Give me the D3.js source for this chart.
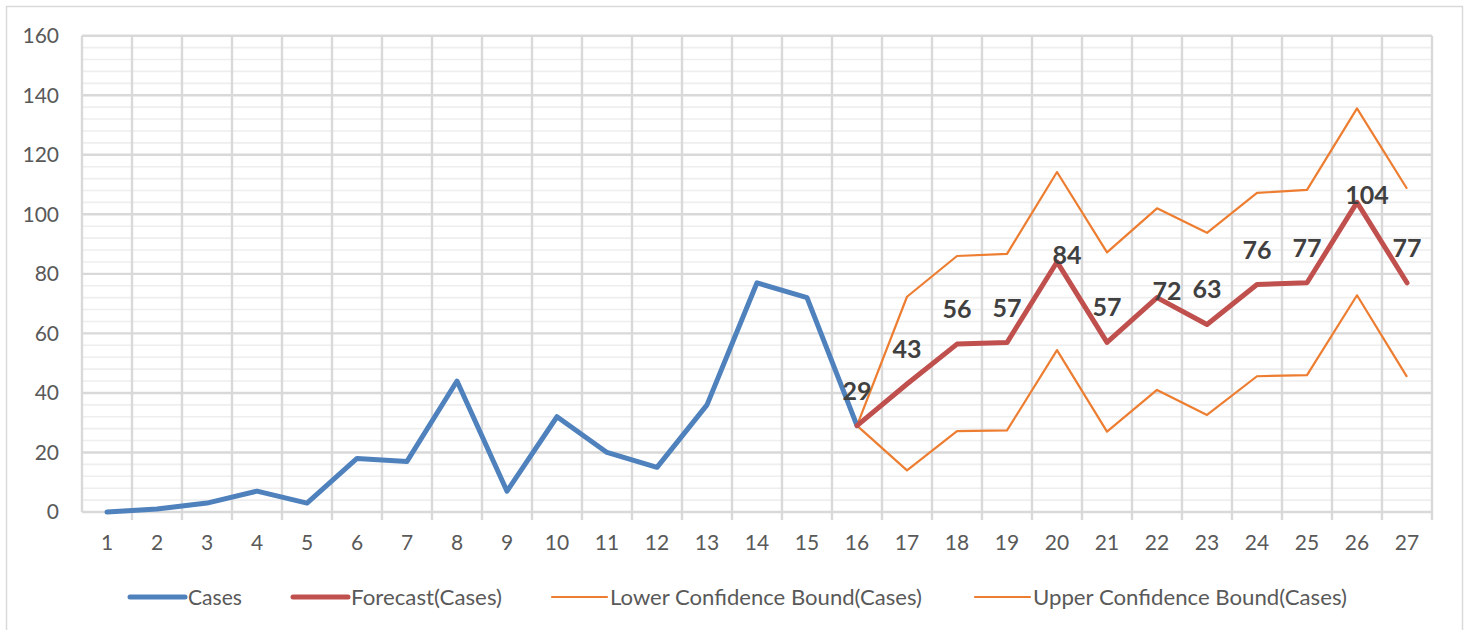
<!DOCTYPE html>
<html>
<head>
<meta charset="utf-8">
<script src="https://cdn.jsdelivr.net/npm/d3@7"></script>
<style>
  html, body { margin: 0; padding: 0; background: #ffffff; }
  svg { display: block; font-family: Lato, "Open Sans", sans-serif; }
</style>
</head>
<body>
<svg id="chart" width="1467" height="630"></svg>
<script>
// ---- data ----
const categories = [1,2,3,4,5,6,7,8,9,10,11,12,13,14,15,16,17,18,19,20,21,22,23,24,25,26,27];
const casesStart = 1;
const cases = [0,1,3,7,3,18,17,44,7,32,20,15,36,77,72,29];
const forecastStart = 16;
const forecast = [29,43,56.4,56.9,84,57,72,63,76.4,77,104,77];
const lowerBound = [29,14,27.2,27.4,54.4,27,41,32.6,45.6,46,72.8,45.4];
const upperBound = [29,72.3,86,86.7,114.2,87.2,102,93.8,107.2,108.2,135.6,108.6];
const labelPlacement = ["above","above","above","above","center","above","center","above","above","above","center","above"];
const yTicks = [0,20,40,60,80,100,120,140,160];
const seriesNames = ["Cases","Forecast(Cases)","Lower Confidence Bound(Cases)","Upper Confidence Bound(Cases)"];

// ---- layout ----
const plot = { left: 82, right: 1432, top: 35.7, bottom: 512 };
const svg = d3.select("#chart");

// chart border
svg.append("rect").attr("x", 6.5).attr("y", 6.5).attr("width", 1456).attr("height", 640)
  .attr("fill", "none").attr("stroke", "#d9d9d9").attr("stroke-width", 1.5);

const x = d3.scaleBand().domain(categories).range([plot.left, plot.right]).padding(0);
const y = d3.scaleLinear().domain([0, 160]).range([plot.bottom, plot.top]);
const cx = c => x(c) + x.bandwidth() / 2;

// minor gridlines
const minor = d3.range(0, 161, 4).filter(v => v % 20 !== 0);
svg.append("g").selectAll("line").data(minor).join("line")
  .attr("x1", plot.left).attr("x2", plot.right)
  .attr("y1", d => y(d)).attr("y2", d => y(d))
  .attr("stroke", "#eeeeee").attr("stroke-width", 1.6);

// major gridlines
svg.append("g").selectAll("line").data(yTicks).join("line")
  .attr("x1", plot.left).attr("x2", plot.right)
  .attr("y1", d => y(d)).attr("y2", d => y(d))
  .attr("stroke", "#d9d9d9").attr("stroke-width", 2.4);

// vertical gridlines at category boundaries
const bounds = categories.map(c => x(c)).concat([plot.right]);
svg.append("g").selectAll("line").data(bounds).join("line")
  .attr("x1", d => d).attr("x2", d => d)
  .attr("y1", plot.top).attr("y2", (d, i) => i === 0 ? plot.bottom : plot.bottom + 8)
  .attr("stroke", "#d9d9d9").attr("stroke-width", 2.4);

// y axis labels
svg.append("g").selectAll("text").data(yTicks).join("text")
  .attr("x", 59).attr("y", d => y(d)).attr("dy", "0.35em")
  .attr("text-anchor", "end").attr("font-size", 21).attr("fill", "#595959")
  .text(d => d);

// x axis labels
const xAxis = d3.axisBottom(x).tickSize(0).tickPadding(0);
const gx = svg.append("g").attr("transform", `translate(0,${plot.bottom + 23})`).call(xAxis);
gx.select(".domain").remove();
gx.selectAll("text").attr("font-size", 21).attr("fill", "#595959")
  .attr("font-family", "Lato, 'Open Sans', sans-serif").attr("dy", "0.71em");

// series
const line = d3.line().x(d => cx(d.c)).y(d => y(d.v));
const toPts = (arr, start) => arr.map((v, i) => ({ c: categories[start - 1 + i], v }));

const orange = "#ED7D31";
svg.append("path").datum(toPts(lowerBound, forecastStart)).attr("d", line)
  .attr("fill", "none").attr("stroke", orange).attr("stroke-width", 2.2).attr("stroke-linejoin", "round");
svg.append("path").datum(toPts(upperBound, forecastStart)).attr("d", line)
  .attr("fill", "none").attr("stroke", orange).attr("stroke-width", 2.2).attr("stroke-linejoin", "round");
svg.append("path").datum(toPts(cases, casesStart)).attr("d", line)
  .attr("fill", "none").attr("stroke", "#4F81BD").attr("stroke-width", 5)
  .attr("stroke-linejoin", "round").attr("stroke-linecap", "round");
svg.append("path").datum(toPts(forecast, forecastStart)).attr("d", line)
  .attr("fill", "none").attr("stroke", "#C0504D").attr("stroke-width", 5)
  .attr("stroke-linejoin", "round").attr("stroke-linecap", "round");

// data labels for forecast
const fpts = toPts(forecast, forecastStart);
svg.append("g").selectAll("text").data(fpts).join("text")
  .attr("x", (d, i) => cx(d.c) + (labelPlacement[i] === "center" ? 10 : 0))
  .attr("y", (d, i) => y(d.v) + (labelPlacement[i] === "center" ? -7 : -35))
  .attr("dy", "0.36em")
  .attr("text-anchor", "middle").attr("font-size", 25).attr("font-weight", "bold")
  .attr("fill", "#404040")
  .text(d => d3.format(".0f")(d.v));

// legend
const legendColors = ["#4F81BD", "#C0504D", orange, orange];
const legendWidths = [5, 5, 2.2, 2.2];
const legendTextLen = [54, 151, 312, 314];
const legendLineX = [130, 293, 552, 975];
const lg = svg.append("g");
seriesNames.forEach((name, i) => {
  const x0 = legendLineX[i];
  lg.append("line").attr("x1", x0).attr("x2", x0 + 55).attr("y1", 597).attr("y2", 597)
    .attr("stroke", legendColors[i]).attr("stroke-width", legendWidths[i]).attr("stroke-linecap", "round");
  lg.append("text").attr("x", x0 + 58).attr("y", 597).attr("dy", "0.35em")
    .attr("font-size", 22).attr("fill", "#595959")
    .attr("textLength", legendTextLen[i]).attr("lengthAdjust", "spacingAndGlyphs")
    .text(name);
});
</script>
</body>
</html>
